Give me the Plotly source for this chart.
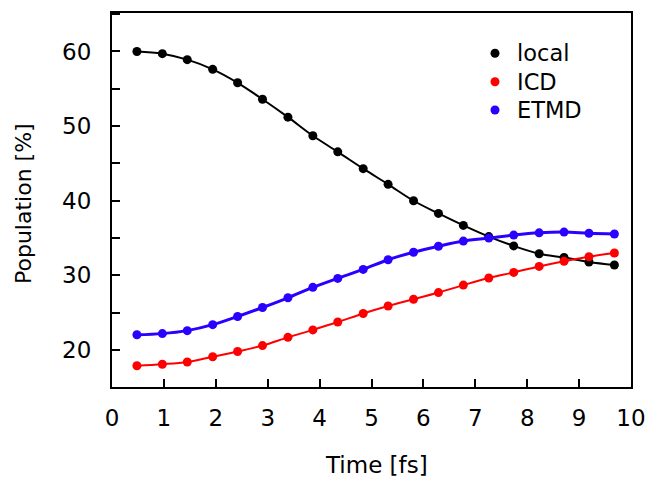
import plotly.graph_objects as go

# Simulation time of each sample [fs]
time_fs = [0.48, 0.97, 1.45, 1.94, 2.42, 2.90, 3.39, 3.87, 4.35, 4.84,
           5.32, 5.81, 6.29, 6.77, 7.26, 7.74, 8.23, 8.71, 9.19, 9.68]

# Populations [%] of each decay channel
local = [60.0, 59.7, 58.9, 57.6, 55.8, 53.6, 51.2, 48.7, 46.55, 44.3,
         42.2, 40.0, 38.3, 36.7, 35.2, 33.95, 32.9, 32.4, 31.8, 31.4]
icd = [17.9, 18.1, 18.4, 19.1, 19.8, 20.6, 21.7, 22.7, 23.75, 24.9,
       25.9, 26.8, 27.7, 28.7, 29.65, 30.4, 31.2, 31.9, 32.5, 33.0]
etmd = [22.05, 22.2, 22.6, 23.4, 24.5, 25.7, 27.0, 28.4, 29.6, 30.8,
        32.1, 33.1, 33.9, 34.6, 35.0, 35.4, 35.7, 35.8, 35.65, 35.55]

series = [
    ("local", local, "#000000", 2),
    ("ICD", icd, "#ff0000", 2),
    ("ETMD", etmd, "#2a00ff", 3),
]

FONT = "DejaVu Sans"
FS = 23

W, H = 645, 477
ML, MR, MT, MB = 112, 14, 13, 90
PW, PH = W - ML - MR, H - MT - MB


def px_x(px):
    """pixel column -> paper x"""
    return (px - ML) / PW


def px_y(py):
    """pixel row -> paper y"""
    return 1 - (py - MT) / PH


fig = go.Figure()

# smooth connecting curves
for name, vals, color, lw in series:
    fig.add_trace(go.Scatter(
        x=time_fs, y=vals, mode="lines", showlegend=False,
        line=dict(color=color, width=lw, shape="spline", smoothing=1.0),
        hoverinfo="skip",
    ))

# sampled points
for name, vals, color, lw in series:
    fig.add_trace(go.Scatter(
        x=time_fs, y=vals, mode="markers", name=name, showlegend=False,
        marker=dict(color=color, size=9),
    ))

axis_common = dict(
    showline=True, linecolor="black", linewidth=2, mirror=True,
    ticks="inside", ticklen=8, tickwidth=1.5, tickcolor="black",
    showgrid=False, zeroline=False, automargin=False,
    ticklabeloverflow="allow",
    tickfont=dict(family=FONT, size=FS, color="black"),
)

fig.update_xaxes(
    range=[0, 10], dtick=1, tick0=0,
    ticklabelstandoff=9,
    **axis_common,
)
fig.update_yaxes(
    range=[15.05, 65.15], dtick=10, tick0=0,
    minor=dict(dtick=5, ticks="inside", ticklen=8, tickwidth=1.5,
               tickcolor="black", showgrid=False),
    ticklabelstandoff=14,
    **axis_common,
)

# axis titles
fig.add_annotation(
    text="Time [fs]",
    xref="paper", yref="paper", x=px_x(376.5), y=px_y(465),
    xanchor="center", yanchor="middle", showarrow=False,
    font=dict(family=FONT, size=FS, color="black"),
)
fig.add_annotation(
    text="Population [%]", textangle=-90,
    xref="paper", yref="paper", x=px_x(23), y=px_y(204),
    xanchor="center", yanchor="middle", showarrow=False,
    font=dict(family=FONT, size=22, color="black"),
)

# legend: coloured dot followed by the series name
legend_rows = [53.3, 81.7, 110.0]
dot_x, dot_r, text_x = 495, 4.5, 515
for (name, vals, color, lw), row in zip(series, legend_rows):
    fig.add_shape(
        type="circle", xref="paper", yref="paper",
        x0=px_x(dot_x - dot_r), x1=px_x(dot_x + dot_r),
        y0=px_y(row + dot_r), y1=px_y(row - dot_r),
        fillcolor=color, line=dict(width=0),
    )
    fig.add_annotation(
        text=name, xref="paper", yref="paper",
        x=px_x(text_x), y=px_y(row), xanchor="left", yanchor="middle",
        showarrow=False, font=dict(family=FONT, size=22.5, color="black"),
    )

fig.update_layout(
    width=W, height=H,
    margin=dict(l=ML, r=MR, t=MT, b=MB),
    plot_bgcolor="white", paper_bgcolor="white",
    font=dict(family=FONT, size=FS, color="black"),
    showlegend=False,
)

fig.write_html("out.html")
